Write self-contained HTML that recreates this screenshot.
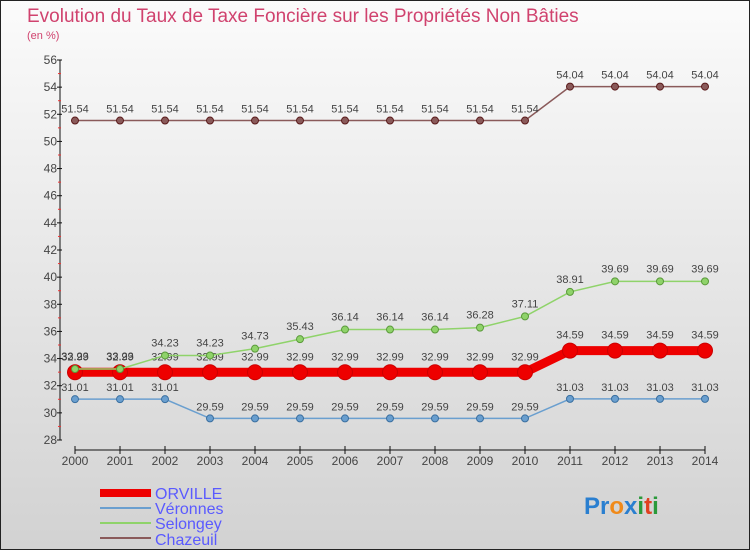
<!DOCTYPE html>
<html><head><meta charset="utf-8"><style>
html,body{margin:0;padding:0}
body{width:750px;height:550px;overflow:hidden;font-family:"Liberation Sans",sans-serif}
</style></head><body>
<svg width="750" height="550" xmlns="http://www.w3.org/2000/svg">
<defs><linearGradient id="bg" x1="0" y1="0" x2="0" y2="1"><stop offset="0" stop-color="#fbfbfb"/><stop offset="1" stop-color="#d2d2d2"/></linearGradient></defs>
<rect x="0.5" y="0.5" width="749" height="549" fill="url(#bg)" stroke="#222"/>
<text x="27" y="22" font-size="19" fill="#d0426e">Evolution du Taux de Taxe Foncière sur les Propriétés Non Bâties</text>
<text x="27" y="39" font-size="11" fill="#d0426e">(en %)</text>
<g id="axes"></g>
<g id="series"></g>
<g>
<rect x="100" y="489" width="51" height="8" fill="#e00"/>
<text x="155" y="499" font-size="16" fill="#5a5aff">ORVILLE</text>
<rect x="100" y="507" width="51" height="2" fill="#6a9fcf"/>
<text x="155" y="514" font-size="16" fill="#5a5aff">Véronnes</text>
<rect x="100" y="522" width="51" height="2" fill="#8fd36a"/>
<text x="155" y="529" font-size="16" fill="#5a5aff">Selongey</text>
<rect x="100" y="537" width="51" height="2" fill="#8a5a5a"/>
<text x="155" y="545" font-size="16" fill="#5a5aff">Chazeuil</text>
</g>
<text x="584" y="514" font-size="24" font-weight="bold"><tspan fill="#2a7fd0">Pr</tspan><tspan fill="#f08a1a">o</tspan><tspan fill="#2a7fd0">x</tspan><tspan fill="#2a9a3a">i</tspan><tspan fill="#e04020">t</tspan><tspan fill="#2a9a3a">i</tspan></text>
</svg>
<script>
const years=[2000,2001,2002,2003,2004,2005,2006,2007,2008,2009,2010,2011,2012,2013,2014];
const orville=[32.99,32.99,32.99,32.99,32.99,32.99,32.99,32.99,32.99,32.99,32.99,34.59,34.59,34.59,34.59];
const veronnes=[31.01,31.01,31.01,29.59,29.59,29.59,29.59,29.59,29.59,29.59,29.59,31.03,31.03,31.03,31.03];
const selongey=[33.23,33.23,34.23,34.23,34.73,35.43,36.14,36.14,36.14,36.28,37.11,38.91,39.69,39.69,39.69];
const chazeuil=[51.54,51.54,51.54,51.54,51.54,51.54,51.54,51.54,51.54,51.54,51.54,54.04,54.04,54.04,54.04];
const yTicks=[28,30,32,34,36,38,40,42,44,46,48,50,52,54,56];
const NS="http://www.w3.org/2000/svg";
const yMin=28,yMax=56,plotTop=60,plotBot=440;
function X(i){return 75+i*45;}
function Y(v){return plotBot-(v-yMin)/(yMax-yMin)*(plotBot-plotTop);}
function mk(tag,at,parent){const e=document.createElementNS(NS,tag);for(const k in at)e.setAttribute(k,at[k]);parent.appendChild(e);return e;}
const ax=document.getElementById('axes');
let l=mk('line',{x1:60,y1:plotTop,x2:60,y2:plotBot,stroke:'#111'},ax);


yTicks.forEach(t=>{
  mk('line',{x1:57,y1:Y(t),x2:62,y2:Y(t),stroke:'#111'},ax);
  if(t<yMax) mk('line',{x1:58,y1:Y(t+1),x2:61,y2:Y(t+1),stroke:'#e33'},ax);
  const tx=mk('text',{x:57,y:Y(t)+4,'font-size':12,'text-anchor':'end',fill:'#444'},ax);
  tx.textContent=t;
  
  
});
l=mk('line',{x1:75,y1:450,x2:705,y2:450,stroke:'#111'},ax);


years.forEach((y,i)=>{
  mk('line',{x1:X(i),y1:446,x2:X(i),y2:454,stroke:'#111'},ax);
  const tx=mk('text',{x:X(i),y:465,'font-size':12,'text-anchor':'middle',fill:'#444'},ax);
  tx.textContent=y;
  
  
});
const sg=document.getElementById('series');
function draw(vals,name,color,lw,r,stroke,labelDy){
  const g=mk('g',{},sg);
  
  
  const p=mk('polyline',{points:vals.map((v,i)=>X(i)+','+Y(v)).join(' '),fill:'none',stroke:color,'stroke-width':lw},g);
  
  
  vals.forEach((v,i)=>{
    const c=mk('circle',{cx:X(i),cy:Y(v),r:r,fill:color,stroke:stroke,'stroke-width':1},g);
    
    
    const t=mk('text',{x:X(i),y:Y(v)+labelDy,'font-size':11,'text-anchor':'middle',fill:'#444'},g);
    t.textContent=v.toFixed(2);
    
    
  });
}
draw(chazeuil,'chazeuil','#8a5a5a',1.5,3.5,'#5a1a1a',-8);
draw(veronnes,'veronnes','#6a9fcf',1.5,3.5,'#3a6fa0',-8);
draw(orville,'orville','#ee0000',9,7.5,'#c00',-12);
draw(selongey,'selongey','#8fd36a',1.5,3.5,'#5a9a3a',-9);
</script>
</body></html>
